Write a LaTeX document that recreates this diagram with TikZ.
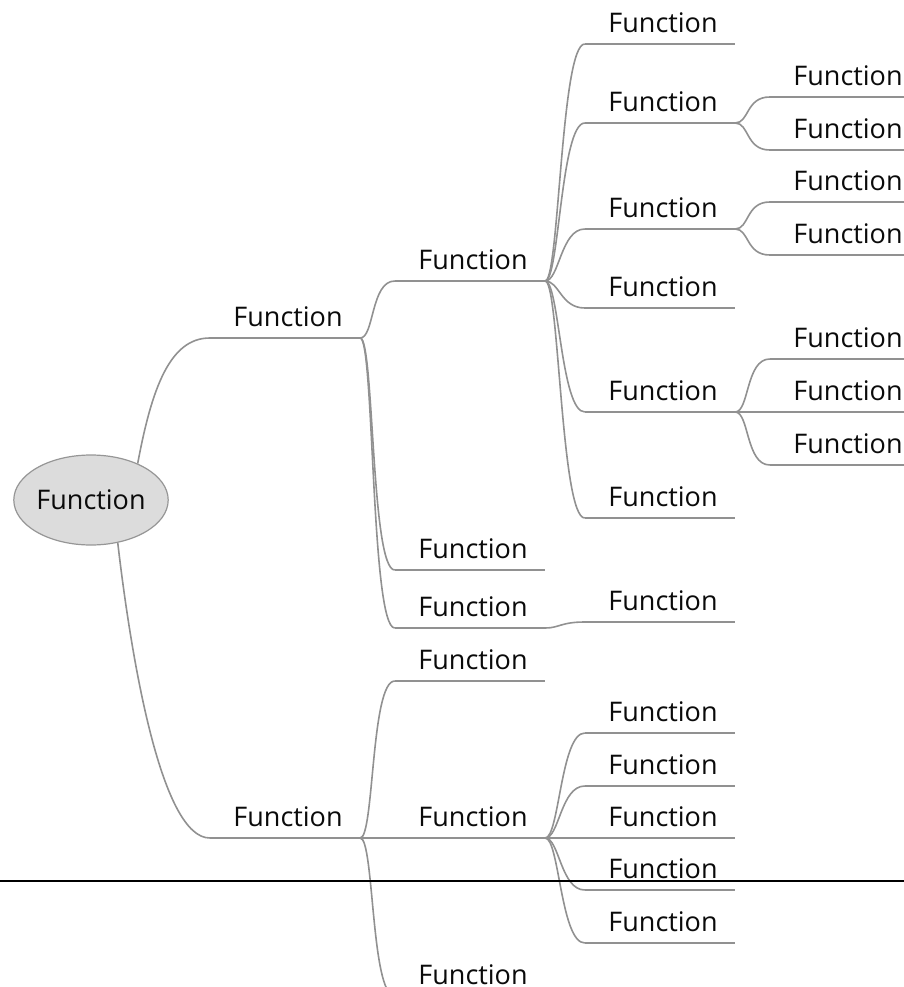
\documentclass[tikz,border=0pt]{standalone}
\usepackage{fontspec}
\setmainfont{Open Sans}
\usetikzlibrary{shapes.geometric}
\newcommand\topicfont{\fontsize{27}{32}\selectfont}
\definecolor{linegray}{RGB}{145,145,145}
\definecolor{rootfill}{RGB}{220,220,220}
\definecolor{rootline}{RGB}{150,150,150}
\definecolor{txt}{RGB}{10,10,10}
\begin{document}
\begin{tikzpicture}[x=1pt,y=-1pt,
  topic/.style={font=\topicfont, text=txt, inner xsep=0pt, inner ysep=11pt, text depth=0pt,
    text height=20pt, minimum width=150pt, anchor=south, execute at begin node={\hspace*{6pt}}},
  rootnode/.style={ellipse, draw=rootline, line width=1.2pt, fill=rootfill, font=\topicfont, text=txt,
    minimum width=152pt, minimum height=90pt, inner sep=0pt},
  link/.style={draw=linegray, line width=1.6pt},
  lk/.style={link, to path={.. controls +(14,0) and +(-24,0) .. (\tikztotarget)}},
  rule/.style={draw=black, line width=2pt}]
\useasboundingbox (0,0) rectangle (904,987);
\clip (0,0) rectangle (904,987);

% root
\node[rootnode] (root) at (91,500) {Function};

% level 1
\node[topic] (A) at (285,338) {Function};
\node[topic] (B) at (285,838) {Function};

% level 2
\node[topic] (A1) at (470,281) {Function};
\node[topic] (A2) at (470,570) {Function};
\node[topic] (A3) at (470,628) {Function};
\node[topic] (B1) at (470,681) {Function};
\node[topic] (B2) at (470,838) {Function};
\node[topic] (B3) at (470,996) {Function};

% level 3
\node[topic] (A1a) at (660,44) {Function};
\node[topic] (A1b) at (660,123) {Function};
\node[topic] (A1c) at (660,229) {Function};
\node[topic] (A1d) at (660,308) {Function};
\node[topic] (A1e) at (660,412) {Function};
\node[topic] (A1f) at (660,518) {Function};
\node[topic] (A3a) at (660,622) {Function};
\node[topic] (B2a) at (660,733) {Function};
\node[topic] (B2b) at (660,786) {Function};
\node[topic] (B2c) at (660,838) {Function};
\node[topic] (B2d) at (660,890) {Function};
\node[topic] (B2e) at (660,943) {Function};

% level 4
\node[topic] (A1b1) at (845,97) {Function};
\node[topic] (A1b2) at (845,150) {Function};
\node[topic] (A1c1) at (845,202) {Function};
\node[topic] (A1c2) at (845,255) {Function};
\node[topic] (A1e1) at (845,359) {Function};
\node[topic] (A1e2) at (845,412) {Function};
\node[topic] (A1e3) at (845,465) {Function};

% underlines
\foreach \n in {A,B,A1,A2,A3,B1,B2,B3,A1a,A1b,A1c,A1d,A1e,A1f,A3a,B2a,B2b,B2c,B2d,B2e,A1b1,A1b2,A1c1,A1c2,A1e1,A1e2,A1e3}
  \draw[link] (\n.south west) -- (\n.south east);

% root connectors
\draw[link] (root.38) .. controls +(14,-75) and +(-40,0) .. (A.south west);
\draw[link] (root.-58) .. controls +(14,120) and +(-48,0) .. (B.south west);

% branch connectors
\foreach \c in {A1,A2,A3} \draw[lk] (A.south east) to (\c.south west);
\foreach \c in {B1,B2,B3} \draw[lk] (B.south east) to (\c.south west);
\foreach \c in {A1a,A1b,A1c,A1d,A1e,A1f} \draw[lk] (A1.south east) to (\c.south west);
\draw[lk] (A3.south east) to (A3a.south west);
\foreach \c in {B2a,B2b,B2c,B2d,B2e} \draw[lk] (B2.south east) to (\c.south west);
\foreach \c in {A1b1,A1b2} \draw[lk] (A1b.south east) to (\c.south west);
\foreach \c in {A1c1,A1c2} \draw[lk] (A1c.south east) to (\c.south west);
\foreach \c in {A1e1,A1e2,A1e3} \draw[lk] (A1e.south east) to (\c.south west);

% horizontal rule
\coordinate (ruleL) at (0,881);
\coordinate (ruleR) at (904,881);
\draw[rule] (ruleL) -- (ruleR);
\end{tikzpicture}
\end{document}
